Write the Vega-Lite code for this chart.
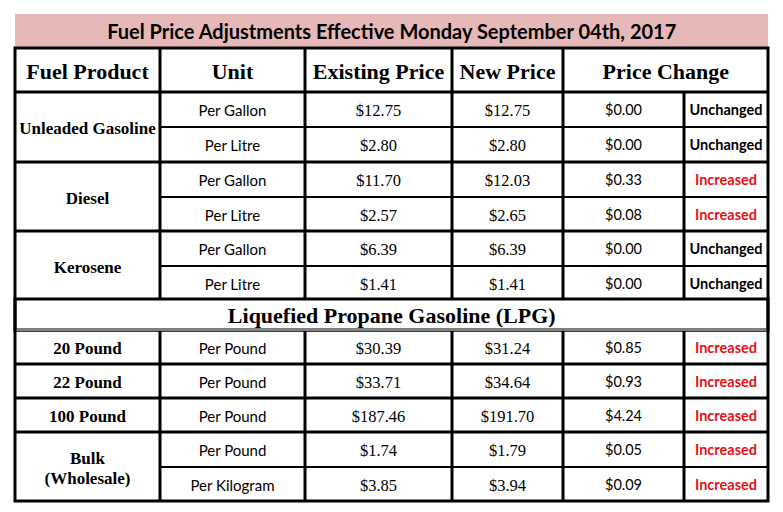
{
  "$schema": "https://vega.github.io/schema/vega-lite/v6.json",
  "width": 783,
  "height": 512,
  "padding": 0,
  "autosize": {"type": "none"},
  "background": "white",
  "config": {"view": {"stroke": null}, "axis": {"disable": true}},
  "datasets": {
    "prices": [
      {"product": "Unleaded Gasoline", "unit": "Per Gallon", "existing": 12.75, "new": 12.75, "change": 0.00, "status": "Unchanged", "row": 2},
      {"product": "Unleaded Gasoline", "unit": "Per Litre", "existing": 2.80, "new": 2.80, "change": 0.00, "status": "Unchanged", "row": 3},
      {"product": "Diesel", "unit": "Per Gallon", "existing": 11.70, "new": 12.03, "change": 0.33, "status": "Increased", "row": 4},
      {"product": "Diesel", "unit": "Per Litre", "existing": 2.57, "new": 2.65, "change": 0.08, "status": "Increased", "row": 5},
      {"product": "Kerosene", "unit": "Per Gallon", "existing": 6.39, "new": 6.39, "change": 0.00, "status": "Unchanged", "row": 6},
      {"product": "Kerosene", "unit": "Per Litre", "existing": 1.41, "new": 1.41, "change": 0.00, "status": "Unchanged", "row": 7},
      {"product": "20 Pound", "unit": "Per Pound", "existing": 30.39, "new": 31.24, "change": 0.85, "status": "Increased", "row": 9},
      {"product": "22 Pound", "unit": "Per Pound", "existing": 33.71, "new": 34.64, "change": 0.93, "status": "Increased", "row": 10},
      {"product": "100 Pound", "unit": "Per Pound", "existing": 187.46, "new": 191.70, "change": 4.24, "status": "Increased", "row": 11},
      {"product": "Bulk\n(Wholesale)", "unit": "Per Pound", "existing": 1.74, "new": 1.79, "change": 0.05, "status": "Increased", "row": 12},
      {"product": "Bulk\n(Wholesale)", "unit": "Per Kilogram", "existing": 3.85, "new": 3.94, "change": 0.09, "status": "Increased", "row": 13}
    ]
  },
  "layer": [
    {
      "data": {"values": [{}]},
      "mark": {"type": "rect", "fill": "#E6B8B7", "stroke": null},
      "encoding": {
        "x": {"datum": 0, "scale": {"type": "linear", "domain": [0, 1, 2, 3, 4, 5, 6], "range": [15, 160, 305, 452, 563, 684, 768], "nice": false, "zero": false}},
        "x2": {"datum": 6},
        "y": {"datum": 0, "scale": {"type": "linear", "domain": [0, 1, 2, 3, 4, 5, 6, 7, 8, 9, 10, 11, 12, 13, 14], "range": [14, 48, 92, 127, 162, 197, 231, 266, 299, 330, 364, 398, 432, 467, 501], "nice": false, "zero": false}},
        "y2": {"datum": 0.97}
      }
    },
    {
      "data": {"values": [{}]},
      "mark": {"type": "text", "text": "Fuel Price Adjustments Effective Monday September 04th, 2017", "font": "Lato", "fontWeight": "bold", "fontSize": 20, "color": "black", "yOffset": 2},
      "encoding": {"x": {"datum": 2.59}, "y": {"datum": 0.5}}
    },
    {
      "data": {"name": "prices"},
      "mark": {"type": "rule", "color": "black", "strokeWidth": 2},
      "encoding": {"y": {"field": "row", "type": "quantitative"}, "x": {"datum": 1}, "x2": {"datum": 6}}
    },
    {
      "data": {"name": "prices"},
      "transform": [{"aggregate": [{"op": "min", "field": "row", "as": "top"}], "groupby": ["product"]}],
      "mark": {"type": "rule", "color": "black", "strokeWidth": 3},
      "encoding": {"y": {"field": "top", "type": "quantitative"}, "x": {"datum": 0}, "x2": {"datum": 6}}
    },
    {"data": {"values": [{}]}, "mark": {"type": "rule", "color": "black", "strokeWidth": 3}, "encoding": {"x": {"datum": 1}, "y": {"datum": 1}, "y2": {"datum": 14}}},
    {"data": {"values": [{}]}, "mark": {"type": "rule", "color": "black", "strokeWidth": 3}, "encoding": {"x": {"datum": 2}, "y": {"datum": 1}, "y2": {"datum": 14}}},
    {"data": {"values": [{}]}, "mark": {"type": "rule", "color": "black", "strokeWidth": 3}, "encoding": {"x": {"datum": 3}, "y": {"datum": 1}, "y2": {"datum": 14}}},
    {"data": {"values": [{}]}, "mark": {"type": "rule", "color": "black", "strokeWidth": 3}, "encoding": {"x": {"datum": 4}, "y": {"datum": 1}, "y2": {"datum": 14}}},
    {"data": {"values": [{}]}, "mark": {"type": "rule", "color": "black", "strokeWidth": 3}, "encoding": {"x": {"datum": 5}, "y": {"datum": 2}, "y2": {"datum": 14}}},
    {
      "data": {"values": [{}]},
      "mark": {"type": "rect", "fill": "white", "stroke": "black", "strokeWidth": 3},
      "encoding": {"x": {"datum": 0}, "x2": {"datum": 6}, "y": {"datum": 8}, "y2": {"datum": 9}}
    },
    {
      "data": {"values": [{}]},
      "mark": {"type": "rule", "color": "white", "strokeWidth": 1},
      "encoding": {"x": {"datum": 0}, "x2": {"datum": 6}, "y": {"datum": 9}}
    },
    {
      "data": {"values": [{}]},
      "mark": {"type": "rect", "fill": null, "fillOpacity": 0, "stroke": "black", "strokeWidth": 3},
      "encoding": {"x": {"datum": 0}, "x2": {"datum": 6}, "y": {"datum": 1}, "y2": {"datum": 14}}
    },
    {"data": {"values": [{}]}, "mark": {"type": "text", "text": "Fuel Product", "font": "Liberation Serif", "fontWeight": "bold", "fontSize": 22, "color": "black", "yOffset": 2}, "encoding": {"x": {"datum": 0.5}, "y": {"datum": 1.5}}},
    {"data": {"values": [{}]}, "mark": {"type": "text", "text": "Unit", "font": "Liberation Serif", "fontWeight": "bold", "fontSize": 22, "color": "black", "yOffset": 2}, "encoding": {"x": {"datum": 1.5}, "y": {"datum": 1.5}}},
    {"data": {"values": [{}]}, "mark": {"type": "text", "text": "Existing Price", "font": "Liberation Serif", "fontWeight": "bold", "fontSize": 22, "color": "black", "yOffset": 2}, "encoding": {"x": {"datum": 2.5}, "y": {"datum": 1.5}}},
    {"data": {"values": [{}]}, "mark": {"type": "text", "text": "New Price", "font": "Liberation Serif", "fontWeight": "bold", "fontSize": 22, "color": "black", "yOffset": 2}, "encoding": {"x": {"datum": 3.5}, "y": {"datum": 1.5}}},
    {"data": {"values": [{}]}, "mark": {"type": "text", "text": "Price Change", "font": "Liberation Serif", "fontWeight": "bold", "fontSize": 22, "color": "black", "yOffset": 2}, "encoding": {"x": {"datum": 4.85}, "y": {"datum": 1.5}}},
    {"data": {"values": [{}]}, "mark": {"type": "text", "text": "Liquefied Propane Gasoline (LPG)", "font": "Liberation Serif", "fontWeight": "bold", "fontSize": 22, "color": "black", "yOffset": 1}, "encoding": {"x": {"datum": 2.59}, "y": {"datum": 8.5}}},
    {
      "data": {"name": "prices"},
      "transform": [
        {"filter": "indexof(datum.product, '\\n') < 0"},
        {"aggregate": [{"op": "mean", "field": "row", "as": "mrow"}], "groupby": ["product"]}
      ],
      "mark": {"type": "text", "font": "Liberation Serif", "fontWeight": "bold", "fontSize": 17, "color": "black", "yOffset": 19},
      "encoding": {"x": {"datum": 0.5}, "y": {"field": "mrow", "type": "quantitative"}, "text": {"field": "product"}}
    },
    {
      "data": {"name": "prices"},
      "transform": [
        {"filter": "indexof(datum.product, '\\n') >= 0"},
        {"aggregate": [{"op": "mean", "field": "row", "as": "mrow"}], "groupby": ["product"]}
      ],
      "mark": {"type": "text", "font": "Liberation Serif", "fontWeight": "bold", "fontSize": 17, "color": "black", "lineBreak": "\n", "lineHeight": 20, "yOffset": 9},
      "encoding": {"x": {"datum": 0.5}, "y": {"field": "mrow", "type": "quantitative"}, "text": {"field": "product"}}
    },
    {
      "data": {"name": "prices"},
      "mark": {"type": "text", "font": "Lato", "fontSize": 15, "color": "black", "yOffset": 19},
      "encoding": {"x": {"datum": 1.5}, "y": {"field": "row", "type": "quantitative"}, "text": {"field": "unit"}}
    },
    {
      "data": {"name": "prices"},
      "mark": {"type": "text", "font": "Liberation Serif", "fontSize": 16.5, "color": "black", "yOffset": 19},
      "encoding": {"x": {"datum": 2.5}, "y": {"field": "row", "type": "quantitative"}, "text": {"field": "existing", "type": "quantitative", "format": "$.2f"}}
    },
    {
      "data": {"name": "prices"},
      "mark": {"type": "text", "font": "Liberation Serif", "fontSize": 16.5, "color": "black", "yOffset": 19},
      "encoding": {"x": {"datum": 3.5}, "y": {"field": "row", "type": "quantitative"}, "text": {"field": "new", "type": "quantitative", "format": "$.2f"}}
    },
    {
      "data": {"name": "prices"},
      "mark": {"type": "text", "font": "Lato", "fontSize": 14.5, "color": "black", "yOffset": 19},
      "encoding": {"x": {"datum": 4.5}, "y": {"field": "row", "type": "quantitative"}, "text": {"field": "change", "type": "quantitative", "format": "$.2f"}}
    },
    {
      "data": {"name": "prices"},
      "mark": {"type": "text", "font": "Lato", "fontWeight": "bold", "fontSize": 14.5, "yOffset": 19},
      "encoding": {
        "x": {"datum": 5.5},
        "y": {"field": "row", "type": "quantitative"},
        "text": {"field": "status"},
        "color": {"field": "status", "type": "nominal", "scale": {"domain": ["Unchanged", "Increased"], "range": ["#000000", "#E8101A"]}, "legend": null}
      }
    }
  ]
}
